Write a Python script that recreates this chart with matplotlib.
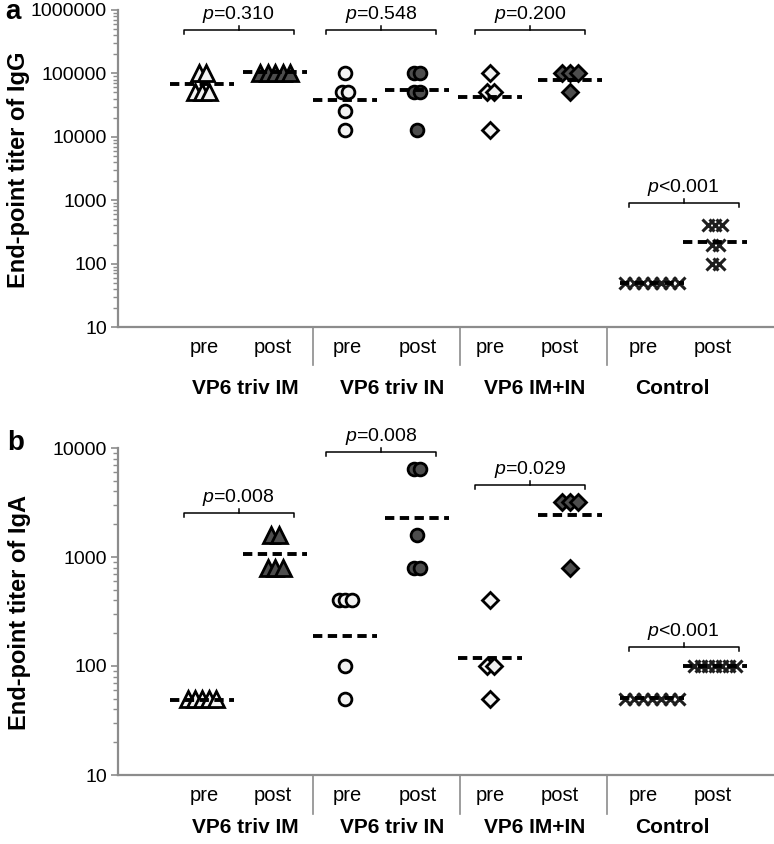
import numpy as np
import matplotlib
matplotlib.use("Agg")
import matplotlib.pyplot as plt
from matplotlib.ticker import LogLocator, FuncFormatter, NullFormatter

plt.rcParams['font.family'] = ['Liberation Sans', 'DejaVu Sans']
plt.rcParams['mathtext.fontset'] = 'custom'
plt.rcParams['mathtext.it'] = 'Liberation Sans:italic'
plt.rcParams['mathtext.rm'] = 'Liberation Sans'

# ---------------- data ----------------
groups = ["VP6 triv IM", "VP6 triv IN", "VP6 IM+IN", "Control"]
phases = ["pre", "post"]

# IgG end-point titers (panel a)
igg_im_pre = [102400, 102400, 51200, 51200, 51200]
igg_im_post = [102400, 102400, 102400, 102400, 102400]
igg_in_pre = [102400, 51200, 51200, 25600, 12800]
igg_in_post = [102400, 102400, 51200, 51200, 12800]
igg_imin_pre = [102400, 51200, 51200, 12800]
igg_imin_post = [102400, 102400, 102400, 51200]
igg_ctrl_pre = [50, 50, 50, 50, 50, 50, 50]
igg_ctrl_post = [400, 400, 400, 200, 200, 100, 100]
igg_lines = [67000, 104000, 38000, 55000, 42500, 78700, 50, 219]
igg_pvals = ["=0.310", "=0.548", "=0.200", "<0.001"]
igg_bracket = [480000, 480000, 480000, 900]

# IgA end-point titers (panel b)
iga_im_pre = [50, 50, 50, 50, 50]
iga_im_post = [1600, 1600, 800, 800, 800]
iga_in_pre = [400, 400, 400, 100, 50]
iga_in_post = [6400, 6400, 1600, 800, 800]
iga_imin_pre = [400, 100, 100, 50]
iga_imin_post = [3200, 3200, 3200, 800]
iga_ctrl_pre = [50, 50, 50, 50, 50, 50, 50]
iga_ctrl_post = [100, 100, 100, 100, 100, 100, 100]
iga_lines = [49, 1070, 188, 2280, 118, 2430, 51, 100]
iga_pvals = ["=0.008", "=0.008", "=0.029", "<0.001"]
iga_bracket = [2540, 9190, 4580, 150]

# ---------------- layout (pixel-based x scale) ----------------
W, H = 774, 844
line_pos = [202, 275, 345, 417, 490, 570, 652, 715]
label_pos = [204, 273, 347, 418, 490, 560, 643, 713]
group_label_pos = [245, 392, 535, 672]
sep_pos = [313, 460, 607]
x_left, x_right = 118, 774

open_fc = '#f2f2f2'
dark_fc = '#4d4d4d'
styles = [
    ('^', open_fc, 11.5, 7.0), ('^', dark_fc, 11.5, 7.5),
    ('o', open_fc, 9.2, 6.5), ('o', dark_fc, 9.2, 6.5),
    ('D', open_fc, 7.8, 7.0), ('D', dark_fc, 7.8, 8.0),
    ('x', None, 8.5, 9.0), ('x', None, 8.5, 7.0),
]

fig = plt.figure(figsize=(W / 100, H / 100), dpi=100)


def make_axes(top_px, bot_px, ymin, ymax):
    ax = fig.add_axes([x_left / W, 1 - bot_px / H, (x_right - x_left) / W, (bot_px - top_px) / H])
    ax.set_yscale('log')
    ax.set_xlim(x_left, x_right)
    ax.set_ylim(ymin, ymax)
    for s in ['top', 'right']:
        ax.spines[s].set_visible(False)
    for s in ['left', 'bottom']:
        ax.spines[s].set_color('#8c8c8c')
        ax.spines[s].set_linewidth(1.6)
    ax.set_xticks([])
    ax.yaxis.set_major_locator(LogLocator(base=10, numticks=10))
    ax.yaxis.set_minor_locator(LogLocator(base=10, subs=np.arange(2, 10), numticks=100))
    ax.yaxis.set_major_formatter(FuncFormatter(lambda v, _: f"{int(round(v))}"))
    ax.yaxis.set_minor_formatter(NullFormatter())
    ax.tick_params(axis='y', which='major', direction='out', length=5, width=1.2,
                   color='#8c8c8c', labelsize=14, pad=3)
    ax.tick_params(axis='y', which='minor', direction='out', length=3.5, width=1.0,
                   color='#8c8c8c')
    return ax


def draw_panel(ax, series, lines, pvals, brackets, ppd, sep_depth, cat_off, grp_off):
    axis_h_px = ax.get_position().height * H
    for sx in sep_pos:
        ax.plot([sx, sx], [0, -sep_depth / axis_h_px], transform=ax.get_xaxis_transform(),
                color='#8c8c8c', lw=1.2, clip_on=False)
    for i, lp in enumerate(label_pos):
        ax.annotate(phases[i % 2], xy=(lp, 0), xycoords=('data', 'axes fraction'),
                    xytext=(0, -cat_off), textcoords='offset points',
                    ha='center', va='center', fontsize=14.5)
    for g, gp in enumerate(group_label_pos):
        ax.annotate(groups[g], xy=(gp, 0), xycoords=('data', 'axes fraction'),
                    xytext=(0, -grp_off), textcoords='offset points',
                    ha='center', va='center', fontsize=15, fontweight='bold')
    for i, vals in enumerate(series):
        mk, fc, ms, step = styles[i]
        xc = line_pos[i]
        uniq = []
        for v in vals:
            if v not in uniq:
                uniq.append(v)
        for v in uniq:
            n = vals.count(v)
            xs = xc + (np.arange(n) - (n - 1) / 2) * step
            for x in xs:
                if mk == 'x':
                    ax.plot([x], [v], marker='x', ms=ms, mew=2.2, color='#1e1e1e',
                            linestyle='none', clip_on=False, zorder=3)
                else:
                    ax.plot([x], [v], marker=mk, ms=ms, mew=2.0, mfc=fc, mec='black',
                            linestyle='none', clip_on=False, zorder=3)
        ax.plot([xc - 32, xc + 32], [lines[i], lines[i]], color='black', lw=2.8,
                linestyle=(0, (2.4, 1.4)), zorder=4, dash_capstyle='butt', clip_on=False)
    f = 10 ** (4 / ppd)
    for g in range(4):
        c = (line_pos[2 * g] + line_pos[2 * g + 1]) / 2
        y = brackets[g]
        ax.plot([c - 55, c - 55, c + 55, c + 55], [y / f, y, y, y / f], color='black',
                lw=1.1, clip_on=False, zorder=2)
        ax.plot([c, c], [y, y * f], color='black', lw=1.1, clip_on=False, zorder=2)
        ax.annotate(r'$p$' + pvals[g], xy=(c, y), xytext=(0, 11), textcoords='offset points',
                    ha='center', va='center', fontsize=14)


axA = make_axes(10, 327, 10, 1e6)
draw_panel(axA,
           [igg_im_pre, igg_im_post, igg_in_pre, igg_in_post,
            igg_imin_pre, igg_imin_post, igg_ctrl_pre, igg_ctrl_post],
           igg_lines, igg_pvals, igg_bracket, 317 / 5, 38, 14.5, 44)

axB = make_axes(448, 775, 10, 1e4)
draw_panel(axB,
           [iga_im_pre, iga_im_post, iga_in_pre, iga_in_post,
            iga_imin_pre, iga_imin_post, iga_ctrl_pre, iga_ctrl_post],
           iga_lines, iga_pvals, iga_bracket, 327 / 3, 39, 14.5, 38)

fig.text(19 / W, 1 - 170 / H, "End-point titer of IgG", rotation=90, ha='center', va='center',
         fontsize=17, fontweight='bold')
fig.text(20 / W, 1 - 612 / H, "End-point titer of IgA", rotation=90, ha='center', va='center',
         fontsize=17, fontweight='bold')
fig.text(13 / W, 1 - 12 / H, "a", ha='center', va='center', fontsize=20, fontweight='bold')
fig.text(16 / W, 1 - 443 / H, "b", ha='center', va='center', fontsize=20, fontweight='bold')

fig.savefig("out.png", dpi=100)
